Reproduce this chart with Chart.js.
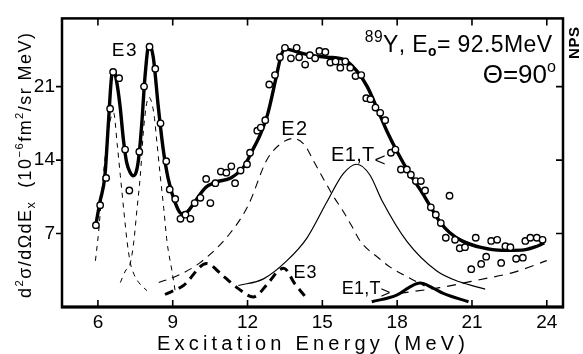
<!DOCTYPE html>
<html><head><meta charset="utf-8">
<script src="https://cdn.jsdelivr.net/npm/chart.js@4"></script>
<style>html,body{margin:0;padding:0;background:#fff}#wrap{width:583px;height:354px}</style>
</head><body><div id="wrap"><canvas id="c" width="583" height="354"></canvas></div>
<script>
// ---- tick labels ----
const xTicks = [6, 9, 12, 15, 18, 21, 24];
const yTicks = [7, 14, 21];

// ---- measured cross sections (open circles) ----
const measE = [5.92,6.09,6.33,6.49,6.61,6.85,7.09,7.26,7.66,7.85,8.07,8.30,8.51,8.74,8.88,9.10,9.31,9.51,9.71,9.88,
  10.11,10.34,10.51,10.71,10.93,11.15,11.35,11.50,11.72,11.98,12.10,12.39,12.53,12.71,12.87,13.10,13.30,13.50,13.74,13.97,
  14.07,14.31,14.50,14.71,14.88,15.12,15.32,15.53,15.72,15.92,16.12,16.33,16.56,16.76,16.93,17.13,17.32,17.52,17.75,17.93,
  18.15,18.39,18.55,18.75,18.95,19.12,19.35,19.55,19.75,19.95,20.10,20.32,20.51,20.72,20.97,21.15,21.37,21.57,21.77,22.01,
  22.17,22.34,22.54,22.77,23.04,23.14,23.34,23.60,23.83];
const measY = [7.8,9.7,12.3,18.9,22.4,21.8,15.0,11.1,14.8,21.0,24.8,22.7,17.5,13.9,11.2,10.3,8.4,8.8,8.4,9.9,
  10.4,12.2,9.9,11.8,12.9,12.8,13.4,11.8,13.0,13.6,14.7,16.8,17.1,17.8,21.2,22.1,23.8,24.7,23.7,24.7,
  23.8,23.1,24.0,23.7,24.4,24.3,23.3,23.4,22.8,23.4,22.8,22.0,22.1,19.9,19.8,19.0,18.5,17.8,14.7,15.0,
  13.1,13.1,12.6,12.0,12.0,11.1,9.5,8.8,8.0,6.6,10.6,6.4,5.6,5.7,3.6,6.6,4.1,4.8,6.3,6.4,
  4.2,5.8,5.7,4.6,4.7,6.3,6.6,6.6,6.4];

// ---- total fit (thick solid) ----
const fitE = [5.9,6.08,6.28,6.42,6.55,6.63,6.75,6.89,7.02,7.15,7.3,7.42,7.55,7.65,7.76,7.89,8.05,8.22,8.42,8.62,8.82,9.09,9.36,9.6,9.85,
  10.33,10.73,11.33,11.86,12.17,12.54,12.81,13.14,13.34,13.5,14.0,14.5,15.2,15.84,16.38,16.8,17.2,17.6,18.0,18.5,19.0,19.4,19.75,20.1,20.6,21.4,22.2,23.0,23.5,23.9];
const fitY = [7.6,10.0,12.5,17.5,22.0,22.5,21.5,19.1,16.0,13.8,12.8,12.5,13.0,14.5,17.5,22.0,25.0,23.8,19.1,15.0,12.2,10.0,8.9,9.1,9.9,
  11.4,11.9,12.3,13.4,14.8,16.6,18.4,21.8,23.9,24.6,24.3,24.0,23.8,23.6,22.5,21.0,18.9,16.7,14.8,12.7,10.9,9.3,8.0,7.1,6.3,5.65,5.4,5.42,5.7,6.1];

// ---- E3 low-lying components (thin dashed) ----
const e3aE = [5.9,6.03,6.16,6.3,6.45,6.63,6.77,6.9,7.03,7.17,7.3,7.45,7.64,7.97];
const e3aY = [4.4,7.2,11.0,14.5,17.3,18.5,15.6,12.5,9.4,6.25,4.2,3.1,2.33,1.55];
const e3bE = [6.9,7.1,7.3,7.44,7.57,7.7,7.84,8.04,8.24,8.37,8.5,8.64,8.77,8.97,9.1];
const e3bY = [2.33,3.43,4.2,6.25,9.4,12.5,17.2,20.0,18.5,15.6,12.5,9.4,6.25,3.43,1.5];

// ---- E2 resonance (dashed) ----
const e2E = [8.44,9.2,10.1,11.3,12.03,12.77,13.3,13.83,14.3,14.63,15.43,15.84,16.23,16.51,17.29,17.72,18.62,19.1];
const e2Y = [2.33,3.0,4.23,7.03,9.7,14.0,15.5,16.06,15.4,14.0,10.6,9.1,7.5,6.3,4.6,3.8,2.6,2.0];

// ---- rising background (dashed) ----
const bgE = [18.1,19.7,21.3,22.7,24.0];
const bgY = [1.3,1.84,2.6,3.32,4.42];

// ---- E3 high-lying (thick dashed) ----
const e3hE = [8.69,9.43,10.36,11.0,11.63,12.23,12.8,13.23,13.45,13.9,14.38];
const e3hY = [1.19,2.05,4.14,3.0,1.75,0.96,2.2,3.45,3.7,2.2,0.81];

// ---- E1, T< (thin solid) ----
const e1lE = [11.63,12.64,13.57,14.38,15.18,15.84,16.38,16.9,17.4,18.39,19.59,20.5,21.53];
const e1lY = [2.05,2.68,4.39,6.57,10.0,12.7,13.6,12.6,10.1,6.25,3.43,2.4,1.71];

// ---- E1, T> (thick solid) ----
const e1gE = [16.98,17.98,18.5,18.92,19.4,19.85,20.86];
const e1gY = [0.5,1.13,1.9,2.28,1.85,1.29,0.5];

const FONT = "'Liberation Sans',Arial,sans-serif";
const FONT2 = "'Liberation Sans',Arial,sans-serif";

function pts(xs, ys) { return xs.map((x, i) => ({ x: x, y: ys[i] })); }

function lineDS(xs, ys, w, dash, order) {
  return { type: 'line', data: pts(xs, ys), borderColor: '#000', borderWidth: w, borderDash: dash,
    pointRadius: 0, fill: false, cubicInterpolationMode: 'monotone', order: order, borderCapStyle: 'butt' };
}

function richWidth(ctx, segs, size, ls, fam) {
  let w = 0;
  segs.forEach(s => {
    const fs = (s.sup || s.sub) ? size * (s.scale || 0.62) : size * (s.scale || 1);
    ctx.font = (s.bold ? 'bold ' : '') + fs + 'px ' + fam;
    for (const ch of s.t) w += ctx.measureText(ch).width + ls;
  });
  return w - ls;
}
function rich(ctx, segs, x, y, size, align, ls, fam) {
  ls = ls || 0; fam = fam || FONT;
  const w = richWidth(ctx, segs, size, ls, fam);
  let cx = align === 'center' ? x - w / 2 : (align === 'right' ? x - w : x);
  ctx.textAlign = 'left'; ctx.textBaseline = 'alphabetic';
  segs.forEach(s => {
    const fs = (s.sup || s.sub) ? size * (s.scale || 0.62) : size * (s.scale || 1);
    ctx.font = (s.bold ? 'bold ' : '') + fs + 'px ' + fam;
    const dy = s.sup ? -size * (s.up || 0.42) : (s.sub ? size * (s.down || 0.2) : 0);
    for (const ch of s.t) { ctx.fillText(ch, cx, y + dy); cx += ctx.measureText(ch).width + ls; }
  });
}
function fitLS(ctx, segs, size, target, fam) {
  let n = 0; segs.forEach(s => n += [...s.t].length);
  const w = richWidth(ctx, segs, size, 0, fam);
  return Math.max(0, (target - w) / (n - 1));
}

const decor = {
  id: 'decor',
  afterDraw(chart) {
    const ctx = chart.ctx, a = chart.chartArea, xs = chart.scales.x, ys = chart.scales.y;
    ctx.save();
    ctx.strokeStyle = '#000'; ctx.fillStyle = '#000';
    ctx.lineWidth = 2.5;
    ctx.strokeRect(a.left, a.top, a.right - a.left, a.bottom - a.top);
    ctx.lineWidth = 3;
    ctx.beginPath(); ctx.moveTo(a.left - 1, a.bottom); ctx.lineTo(a.right + 1, a.bottom); ctx.stroke();
    ctx.lineWidth = 1.6;
    ctx.beginPath();
    xTicks.forEach(v => {
      const p = xs.getPixelForValue(v);
      ctx.moveTo(p, a.bottom); ctx.lineTo(p, a.bottom - 7);
      ctx.moveTo(p, a.top); ctx.lineTo(p, a.top + 7);
    });
    yTicks.forEach(v => {
      const p = ys.getPixelForValue(v);
      ctx.moveTo(a.left, p); ctx.lineTo(a.left - 6, p);
      ctx.moveTo(a.right, p); ctx.lineTo(a.right - 7, p);
    });
    ctx.stroke();

    const X = v => xs.getPixelForValue(v), Y = v => ys.getPixelForValue(v);
    rich(ctx, [{ t: 'E3' }], X(7.05), Y(23.95), 19, 'center', 1.5);
    rich(ctx, [{ t: 'E2' }], X(13.87), Y(16.43), 20, 'center', 1.5);
    rich(ctx, [{ t: 'E1,T' }, { t: '<', sub: true, scale: 0.95, down: 0.22 }], X(15.35), Y(13.9), 20, 'left', 0.3);
    rich(ctx, [{ t: 'E1,T' }, { t: '>', sub: true, scale: 0.95, down: 0.22 }], X(15.78), Y(1.2), 18, 'left', 0.2);
    rich(ctx, [{ t: 'E3' }], X(13.84), Y(2.8), 18, 'left', 1);
    rich(ctx, [{ t: '89', sup: true, scale: 0.68, up: 0.42 }, { t: 'Y, E' }, { t: 'o', sub: true, bold: true, scale: 0.6, down: 0.18 },
      { t: '= 92.5MeV' }], 552, 51.7, 23, 'right', 0.4);
    rich(ctx, [{ t: 'Θ=90' }, { t: 'o', sup: true, scale: 0.62, up: 0.42 }], 556, 83.3, 26, 'right', 0);
    ctx.save(); ctx.translate(579, 43); ctx.rotate(-Math.PI / 2);
    rich(ctx, [{ t: 'NPS', bold: true }], 0, 0, 15, 'center', 0.5, FONT2);
    ctx.restore();
    const xt = [{ t: 'Excitation Energy (MeV)' }];
    rich(ctx, xt, 311, 350, 20, 'center', fitLS(ctx, xt, 20, 308, FONT2), FONT2);
    const yt = [{ t: 'd' }, { t: '2', sup: true }, { t: 'σ/dΩdE' }, { t: 'x', sub: true, scale: 0.7 }, { t: '  (10' },
      { t: '−6', sup: true }, { t: 'fm' }, { t: '2', sup: true }, { t: '/sr MeV)' }];
    ctx.save(); ctx.translate(31, 165.5); ctx.rotate(-Math.PI / 2);
    rich(ctx, yt, 0, 0, 18, 'center', fitLS(ctx, yt, 18, 265, FONT2), FONT2);
    ctx.restore();
    ctx.restore();
  }
};

new Chart(document.getElementById('c'), {
  type: 'scatter',
  data: {
    datasets: [
      { type: 'scatter', data: pts(measE, measY), pointRadius: 3.2, pointBorderWidth: 1.4, pointBackgroundColor: '#fff',
        pointBorderColor: '#000', order: 0 },
      lineDS(fitE, fitY, 3.4, [], 1),
      lineDS(e3aE, e3aY, 1, [5, 5], 2),
      lineDS(e3bE, e3bY, 1, [5, 5], 2),
      lineDS(e2E, e2Y, 1.1, [8, 6], 2),
      lineDS(bgE, bgY, 1.2, [9, 7], 2),
      lineDS(e3hE, e3hY, 3, [9, 6], 2),
      lineDS(e1lE, e1lY, 1.2, [], 2),
      lineDS(e1gE, e1gY, 3, [], 2)
    ]
  },
  options: {
    responsive: false, animation: false, devicePixelRatio: 1,
    layout: { padding: { top: 14, right: 20, left: 0, bottom: 0 } },
    plugins: { legend: { display: false }, tooltip: { enabled: false } },
    scales: {
      x: {
        type: 'linear', min: 4.56, max: 24.65,
        afterBuildTicks: s => { s.ticks = xTicks.map(v => ({ value: v })); },
        afterFit: s => { s.height = 47; },
        grid: { display: false, drawTicks: false }, border: { display: false },
        ticks: { color: '#000', font: { family: FONT, size: 19 }, padding: 4, maxRotation: 0 }
      },
      y: {
        type: 'linear', min: 0, max: 27.5,
        afterBuildTicks: s => { s.ticks = yTicks.map(v => ({ value: v })); },
        afterFit: s => { s.width = 62; },
        grid: { display: false, drawTicks: false }, border: { display: false },
        ticks: { color: '#000', font: { family: FONT, size: 19 }, padding: 7 }
      }
    }
  },
  plugins: [decor]
});
</script>
</body></html>
